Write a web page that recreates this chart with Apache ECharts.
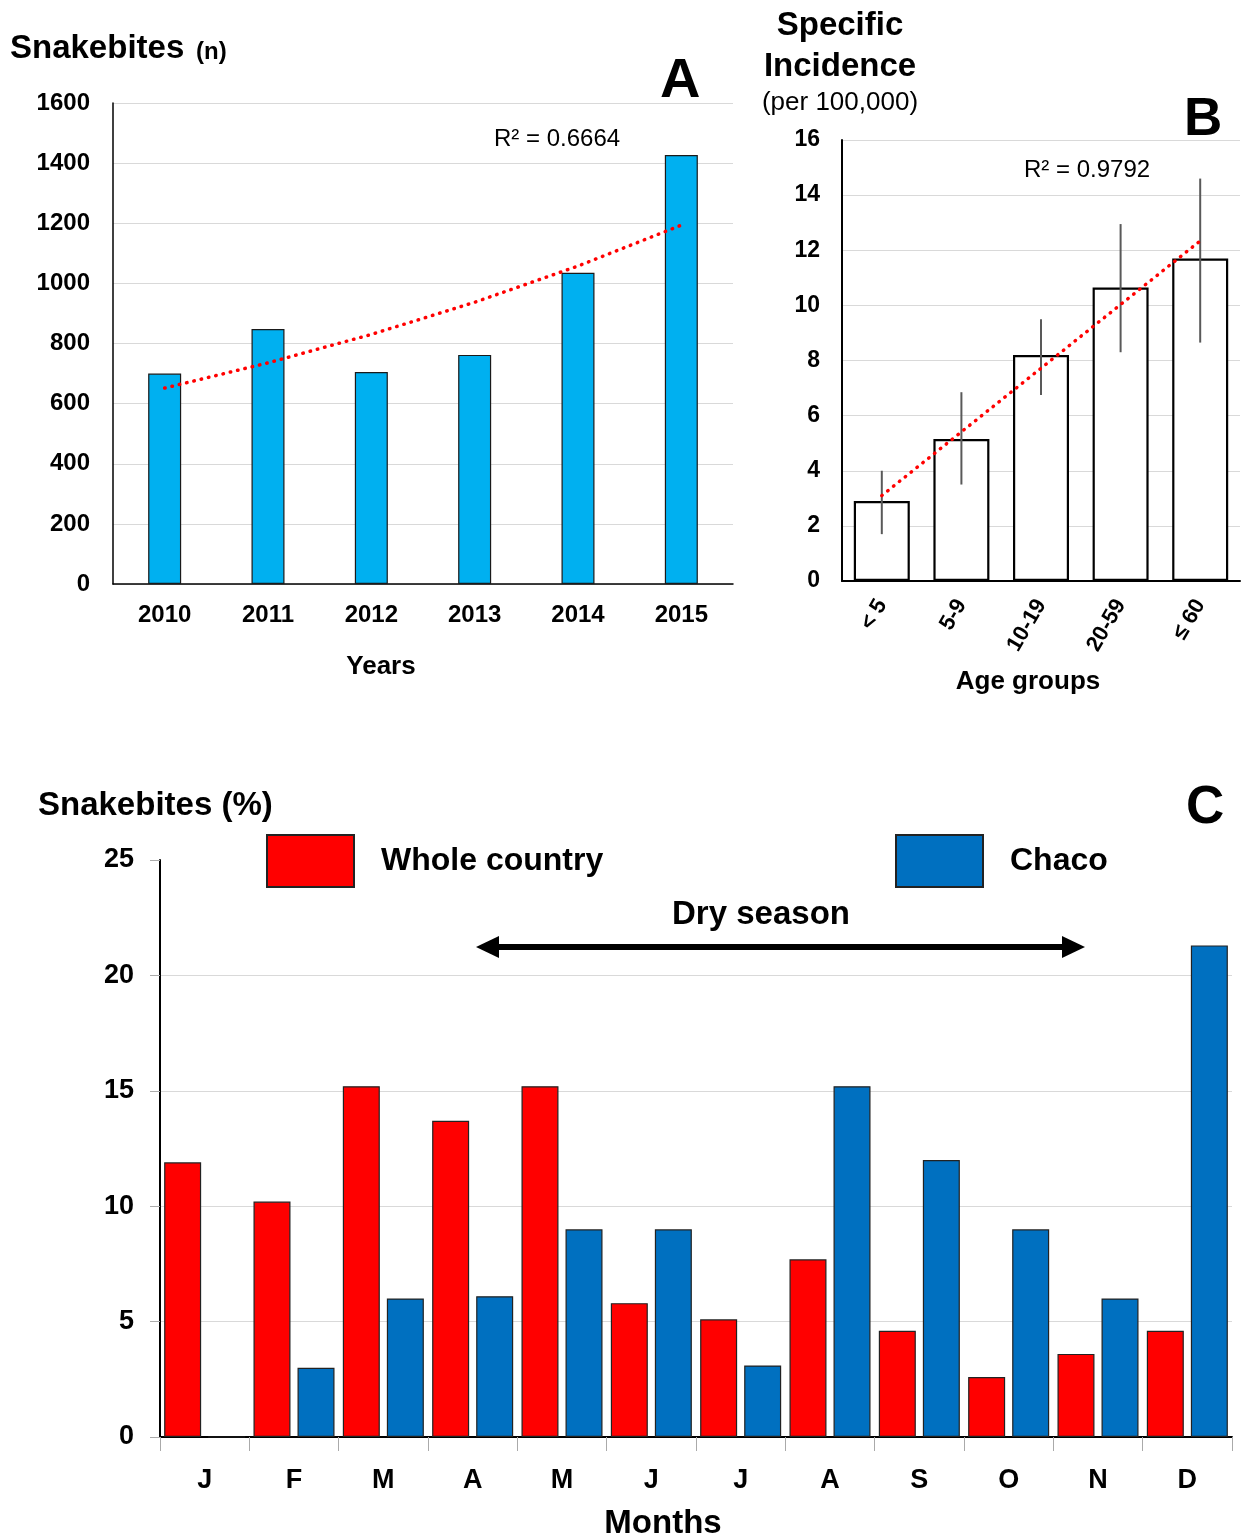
<!DOCTYPE html>
<html>
<head>
<meta charset="utf-8">
<script src="https://cdn.jsdelivr.net/npm/echarts@6/dist/echarts.min.js"></script>
<style>
html,body{margin:0;padding:0;background:#fff;}
#main{width:1247px;height:1538px;}
</style>
</head>
<body>
<div id="main"></div>
<script>
// ---- Panel A data ----
const years = ['2010', '2011', '2012', '2013', '2014', '2015'];
const snakebitesN = [700, 848, 705, 762, 1035, 1427];
const r2A = 'R² = 0.6664';

// ---- Panel B data ----
const ageGroups = ['< 5', '5-9', '10-19', '20-59', '≤ 60'];
const incidence = [2.9, 5.15, 8.2, 10.65, 11.7];
const incidenceLow = [1.7, 3.5, 6.75, 8.3, 8.65];
const incidenceHigh = [4.0, 6.85, 9.5, 12.95, 14.6];
const r2B = 'R² = 0.9792';

// ---- Panel C data ----
const months = ['J', 'F', 'M', 'A', 'M', 'J', 'J', 'A', 'S', 'O', 'N', 'D'];
const wholeCountry = [11.9, 10.2, 15.2, 13.7, 15.2, 5.8, 5.1, 7.7, 4.6, 2.6, 3.6, 4.6];
const chaco = [0, 3.0, 6.0, 6.1, 9.0, 9.0, 3.1, 15.2, 12.0, 9.0, 6.0, 21.3];

// trend helpers (fit computed from the data)
function linFit(vals) {
  const n = vals.length;
  const mx = (n - 1) / 2;
  const my = vals.reduce((a, b) => a + b, 0) / n;
  let sxy = 0, sxx = 0;
  vals.forEach((v, i) => { sxy += (i - mx) * (v - my); sxx += (i - mx) * (i - mx); });
  const b = sxy / sxx, a = my - b * mx;
  return vals.map((_, i) => a + b * i);
}
function expFit(vals) {
  return linFit(vals.map(v => Math.log(v))).map(v => Math.exp(v));
}
const trendA = expFit(snakebitesN);
const trendB = linFit(incidence);

const FONT = '"Liberation Sans", Arial, sans-serif';
const grayGrid = '#d9d9d9';

const chart = echarts.init(document.getElementById('main'), null, {renderer: 'canvas'});

const option = {
  backgroundColor: '#fff',
  animation: false,
  textStyle: {fontFamily: FONT},
  grid: [
    {left: 113, top: 103, width: 620, height: 481, outerBoundsMode: 'none', containLabel: false},
    {left: 842, top: 140, width: 398, height: 441, outerBoundsMode: 'none', containLabel: false},
    {left: 160, top: 860, width: 1072, height: 577, outerBoundsMode: 'none', containLabel: false}
  ],
  legend: [
    {data: ['Whole country'], left: 266, top: 834, padding: 0, itemWidth: 87, itemHeight: 52, icon: 'rect',
     textStyle: {fontSize: 32, fontWeight: 'bold', color: '#000', fontFamily: FONT, padding: [0, 0, 0, 22]}},
    {data: ['Chaco'], left: 895, top: 834, padding: 0, itemWidth: 87, itemHeight: 52, icon: 'rect',
     textStyle: {fontSize: 32, fontWeight: 'bold', color: '#000', fontFamily: FONT, padding: [0, 0, 0, 22]}}
  ],
  xAxis: [
    {gridIndex: 0, type: 'category', data: years,
     axisLine: {lineStyle: {color: '#000', width: 1.5}}, axisTick: {show: false},
     axisLabel: {fontSize: 24, fontWeight: 'bold', color: '#000', margin: 19, fontFamily: FONT},
     name: 'Years', nameLocation: 'middle', nameGap: 70,
     nameTextStyle: {fontSize: 26, fontWeight: 'bold', color: '#000', fontFamily: FONT, padding: [0, 84, 0, 0]}},
    {gridIndex: 1, type: 'category', data: ageGroups,
     axisLine: {lineStyle: {color: '#000', width: 2}}, axisTick: {show: false},
     axisLabel: {fontSize: 22, fontWeight: 'bold', color: '#000', rotate: 60, margin: 20, fontFamily: FONT},
     name: 'Age groups', nameLocation: 'middle', nameGap: 88,
     nameTextStyle: {fontSize: 26, fontWeight: 'bold', color: '#000', fontFamily: FONT, padding: [0, 26, 0, 0]}},
    {gridIndex: 2, type: 'category', data: months,
     axisLine: {lineStyle: {color: '#000', width: 2}},
     axisTick: {show: true, length: 14, lineStyle: {color: '#aaa', width: 1}},
     axisLabel: {fontSize: 27, fontWeight: 'bold', color: '#000', margin: 30, fontFamily: FONT},
     name: 'Months', nameLocation: 'middle', nameGap: 70,
     nameTextStyle: {fontSize: 33, fontWeight: 'bold', color: '#000', fontFamily: FONT, padding: [0, 66, 0, 0]}}
  ],
  yAxis: [
    {gridIndex: 0, type: 'value', min: 0, max: 1600, interval: 200,
     axisLine: {show: true, lineStyle: {color: '#000', width: 1.5}}, axisTick: {show: false},
     splitLine: {lineStyle: {color: grayGrid, width: 1}},
     axisLabel: {fontSize: 24, fontWeight: 'bold', color: '#000', margin: 23, fontFamily: FONT,
                 formatter: v => String(v)}},
    {gridIndex: 1, type: 'value', min: 0, max: 16, interval: 2,
     axisLine: {show: true, lineStyle: {color: '#000', width: 2}}, axisTick: {show: false},
     splitLine: {lineStyle: {color: grayGrid, width: 1}},
     axisLabel: {fontSize: 23, fontWeight: 'bold', color: '#000', margin: 22, fontFamily: FONT}},
    {gridIndex: 2, type: 'value', min: 0, max: 25, interval: 5,
     axisLine: {show: true, lineStyle: {color: '#000', width: 2}},
     axisTick: {show: true, length: 10, lineStyle: {color: '#aaa', width: 1}},
     splitLine: {showMaxLine: false, lineStyle: {color: grayGrid, width: 1}},
     axisLabel: {fontSize: 27, fontWeight: 'bold', color: '#000', margin: 26, fontFamily: FONT}}
  ],
  series: [
    {type: 'bar', xAxisIndex: 0, yAxisIndex: 0, data: snakebitesN, barWidth: 33,
     itemStyle: {color: '#00b0f0', borderColor: '#1a1a1a', borderWidth: 1.2}},
    {type: 'line', xAxisIndex: 0, yAxisIndex: 0, data: trendA, symbol: 'none', z: 5,
     lineStyle: {color: '#ff0000', width: 3.5, type: [0.5, 7], cap: 'round'}},
    {type: 'bar', xAxisIndex: 1, yAxisIndex: 1, data: incidence, barWidth: 56,
     itemStyle: {color: '#ffffff', borderColor: '#000', borderWidth: 2.2}},
    {type: 'custom', xAxisIndex: 1, yAxisIndex: 1, z: 4,
     data: ageGroups.map((g, i) => [i, incidenceLow[i], incidenceHigh[i]]),
     encode: {x: 0, y: [1, 2]},
     renderItem: function (params, api) {
       const lo = api.coord([api.value(0), api.value(1)]);
       const hi = api.coord([api.value(0), api.value(2)]);
       return {type: 'line', shape: {x1: lo[0], y1: lo[1], x2: hi[0], y2: hi[1]},
               style: {stroke: '#595959', lineWidth: 2}};
     }},
    {type: 'line', xAxisIndex: 1, yAxisIndex: 1, data: trendB, symbol: 'none', z: 5,
     lineStyle: {color: '#ff0000', width: 3.5, type: [0.5, 7], cap: 'round'}},
    {name: 'Whole country', type: 'bar', xAxisIndex: 2, yAxisIndex: 2, data: wholeCountry,
     barWidth: 37, barGap: '19%',
     itemStyle: {color: '#ff0000', borderColor: '#222', borderWidth: 1.2}},
    {name: 'Chaco', type: 'bar', xAxisIndex: 2, yAxisIndex: 2, data: chaco,
     barWidth: 37, barGap: '19%',
     itemStyle: {color: '#0070c0', borderColor: '#222', borderWidth: 1.2}}
  ],
  graphic: [
    // Panel A texts
    {type: 'text', left: 10, top: 32, style: {text: 'Snakebites', font: 'bold 33px ' + FONT, fill: '#000'}},
    {type: 'text', left: 196, top: 40, style: {text: '(n)', font: 'bold 24px ' + FONT, fill: '#000'}},
    {type: 'text', left: 660, top: 54, style: {text: 'A', font: 'bold 56px ' + FONT, fill: '#000'}},
    {type: 'text', left: 494, top: 127, style: {text: r2A, font: '24px ' + FONT, fill: '#000'}},
    // Panel B texts
    {type: 'text', x: 840, y: 9, style: {text: 'Specific', font: 'bold 33px ' + FONT, fill: '#000', textAlign: 'center'}},
    {type: 'text', x: 840, y: 50, style: {text: 'Incidence', font: 'bold 33px ' + FONT, fill: '#000', textAlign: 'center'}},
    {type: 'text', x: 840, y: 90, style: {text: '(per 100,000)', font: '26px ' + FONT, fill: '#000', textAlign: 'center'}},
    {type: 'text', left: 1184, top: 94, style: {text: 'B', font: 'bold 53px ' + FONT, fill: '#000'}},
    {type: 'text', left: 1024, top: 158, style: {text: r2B, font: '24px ' + FONT, fill: '#000'}},
    // Panel C texts
    {type: 'text', left: 38, top: 789, style: {text: 'Snakebites (%)', font: 'bold 33px ' + FONT, fill: '#000'}},
    {type: 'text', left: 1186, top: 782, style: {text: 'C', font: 'bold 53px ' + FONT, fill: '#000'}},
    {type: 'text', x: 761, y: 898, style: {text: 'Dry season', font: 'bold 33px ' + FONT, fill: '#000', textAlign: 'center'}},
    {type: 'line', shape: {x1: 492, y1: 947, x2: 1069, y2: 947}, style: {stroke: '#000', lineWidth: 6}},
    {type: 'polygon', shape: {points: [[476, 947], [499, 936], [499, 958]]}, style: {fill: '#000'}},
    {type: 'polygon', shape: {points: [[1085, 947], [1062, 936], [1062, 958]]}, style: {fill: '#000'}}
  ]
};
chart.setOption(option);
</script>
</body>
</html>
